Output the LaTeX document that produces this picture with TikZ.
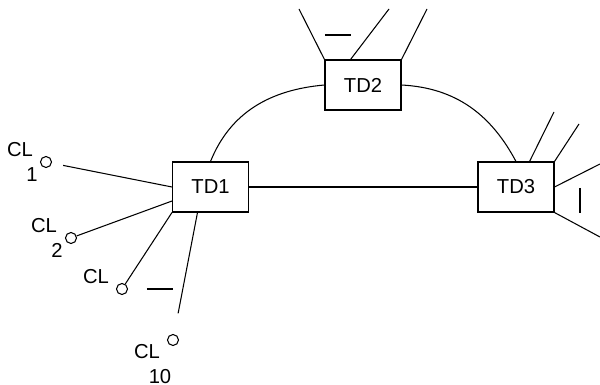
\documentclass[tikz,border=0pt]{standalone}
\usepackage{fontspec}
\setmainfont{Liberation Sans}
\begin{document}
\begin{tikzpicture}[x={0.02cm}, y={-0.02cm}, line width=0.6pt,
        font=\fontsize{11.5}{13}\selectfont,
        td/.style={draw, minimum width=1.52cm, minimum height=1cm, inner sep=0pt},
        cl/.style={draw, circle, minimum size=0.22cm, inner sep=0pt},
        lbl/.style={inner sep=0pt}]
    \useasboundingbox (0,0) rectangle (600,385);
    % the three boxes
    \node[td] (td1) at (210.5,187) {TD1};
    \node[td] (td2) at (363,85) {TD2};
    \node[td] (td3) at (516,187) {TD3};
    \draw (td1.east) -- (td3.west);
    \draw (td1.north) to[out=68, in=185] (td2.west);
    \draw (td2.east) to[out=-3, in=118] (td3.north);
    % clients
    \foreach \n/\x/\y in {1/46/162, 2/71/238, 3/122/289, 10/173/340} {
        \node[cl] (cl\n) at (\x,\y) {};
    }
    \node[lbl] (cl1a) at (20,150) {CL};
    \node[lbl] (cl1b) at (32,175) {1};
    \node[lbl] (cl2a) at (44,226) {CL};
    \node[lbl] (cl2b) at (57,250) {2};
    \node[lbl] (cl3a) at (96,277) {CL};
    \node[lbl] (cl10a) at (147,352) {CL};
    \node[lbl] (cl10b) at (160,376.5) {10};
    \draw[shorten <=6.5pt] (cl1) -- (td1.west);
    \draw (cl2) -- (td1.200);
    \draw (cl3) -- (td1.south west);
    \draw[shorten <=12pt] (cl10) -- (td1.243);
    \draw (147,289) -- (173,289);
    % free ends
    \coordinate (t2a) at (299,9);
    \coordinate (t2b) at (389,9);
    \coordinate (t2c) at (427,9);
    \draw (td2.north west) -- (t2a);
    \draw (td2.116) -- (t2b);
    \draw (td2.north east) -- (t2c);
    \draw (325,35) -- (351,35);
    \coordinate (t3a) at (554,112);
    \coordinate (t3b) at (579,124);
    \coordinate (t3c) at (600,164);
    \coordinate (t3d) at (600,237);
    \draw (td3.62) -- (t3a);
    \draw (td3.north east) -- (t3b);
    \draw (td3.east) -- (t3c);
    \draw (td3.south east) -- (t3d);
    \draw (580,188) -- (580,213);
\end{tikzpicture}
\end{document}
